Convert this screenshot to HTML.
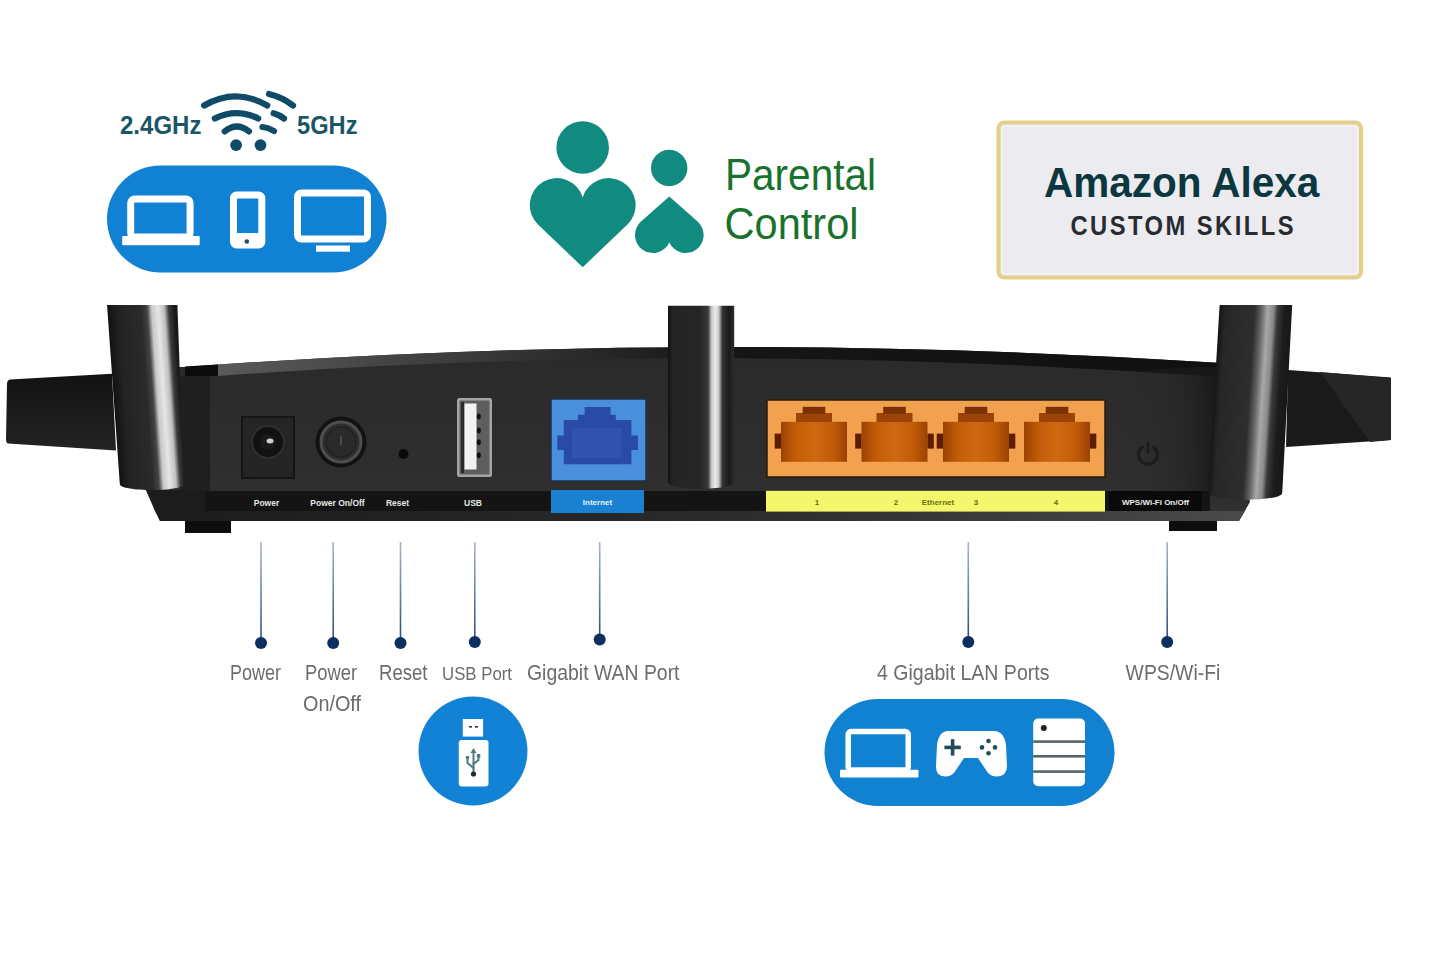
<!DOCTYPE html>
<html><head><meta charset="utf-8">
<style>
html,body{margin:0;padding:0;background:#fff;width:1445px;height:962px;overflow:hidden}
svg{display:block}
text{font-family:"Liberation Sans",sans-serif}
</style></head>
<body>
<svg width="1445" height="962" viewBox="0 0 1445 962">
<defs>
  <linearGradient id="antL" x1="0" x2="1" y1="0" y2="0">
    <stop offset="0" stop-color="#111"/>
    <stop offset="0.55" stop-color="#1c1c1c"/>
    <stop offset="0.66" stop-color="#555"/>
    <stop offset="0.76" stop-color="#d0d0d0"/>
    <stop offset="0.88" stop-color="#bbb"/>
    <stop offset="0.95" stop-color="#222"/>
    <stop offset="1" stop-color="#0e0e0e"/>
  </linearGradient>
  <linearGradient id="portg" x1="0" x2="1" y1="0" y2="0">
    <stop offset="0" stop-color="#9a4204"/>
    <stop offset="0.2" stop-color="#c05a08"/>
    <stop offset="0.5" stop-color="#cf6a10"/>
    <stop offset="0.8" stop-color="#c05a08"/>
    <stop offset="1" stop-color="#9a4204"/>
  </linearGradient>
  <linearGradient id="antM" x1="0" x2="1" y1="0" y2="0">
    <stop offset="0" stop-color="#0c0c0c"/>
    <stop offset="0.4" stop-color="#1c1c1c"/>
    <stop offset="0.56" stop-color="#3a3a3a"/>
    <stop offset="0.66" stop-color="#d8d8d8"/>
    <stop offset="0.76" stop-color="#bdbdbd"/>
    <stop offset="0.86" stop-color="#2a2a2a"/>
    <stop offset="1" stop-color="#0e0e0e"/>
  </linearGradient>
  <linearGradient id="antR" x1="0" x2="1" y1="0" y2="0">
    <stop offset="0" stop-color="#0c0c0c"/>
    <stop offset="0.3" stop-color="#1e1e1e"/>
    <stop offset="0.48" stop-color="#5a5a5a"/>
    <stop offset="0.57" stop-color="#a8a8a8"/>
    <stop offset="0.68" stop-color="#3a3a3a"/>
    <stop offset="0.85" stop-color="#1a1a1a"/>
    <stop offset="1" stop-color="#0e0e0e"/>
  </linearGradient>
  <linearGradient id="lineg" gradientUnits="userSpaceOnUse" x1="0" y1="542" x2="0" y2="642">
    <stop offset="0" stop-color="#a8b6c6"/>
    <stop offset="0.5" stop-color="#6a82a2"/>
    <stop offset="1" stop-color="#2a4a7a"/>
  </linearGradient>
  <linearGradient id="bandg" gradientUnits="userSpaceOnUse" x1="160" y1="0" x2="1250" y2="0">
    <stop offset="0" stop-color="#1c1c1c"/>
    <stop offset="0.5" stop-color="#2a2a2a"/>
    <stop offset="1" stop-color="#4a4a4a"/>
  </linearGradient>
  <linearGradient id="rimg" gradientUnits="userSpaceOnUse" x1="218" y1="0" x2="1222" y2="0">
    <stop offset="0" stop-color="#5a5a5a"/>
    <stop offset="0.25" stop-color="#3a3a3a"/>
    <stop offset="0.5" stop-color="#161616"/>
    <stop offset="1" stop-color="#101010"/>
  </linearGradient>
  <clipPath id="clipA1"><path d="M107 304.6 L177.4 304.6 L183.8 484 C183.8 492 119.8 492 119.8 484 Z"/></clipPath>
  <clipPath id="clipA2"><path d="M668 305.7 L734.2 305.7 L734.2 482 C734.2 491 668 491 668 482 Z"/></clipPath>
  <clipPath id="clipA3"><path d="M1219.6 305 L1292.2 305 L1282.2 493 C1282.2 502 1208.4 502 1208.4 493 Z"/></clipPath>
  <linearGradient id="gA1" x1="0" x2="1" y1="0" y2="0">
    <stop offset="0" stop-color="#0e0e0e"/><stop offset="0.1" stop-color="#141414"/><stop offset="0.2" stop-color="#232323"/>
    <stop offset="0.45" stop-color="#2a2a2a"/><stop offset="0.52" stop-color="#444"/><stop offset="0.57" stop-color="#c8c8c8"/>
    <stop offset="0.64" stop-color="#e6e6e6"/><stop offset="0.71" stop-color="#c0c0c0"/><stop offset="0.76" stop-color="#3a3a3a"/>
    <stop offset="0.82" stop-color="#1a1a1a"/><stop offset="1" stop-color="#111"/>
  </linearGradient>
  <linearGradient id="gA2" x1="0" x2="1" y1="0" y2="0">
    <stop offset="0" stop-color="#0e0e0e"/><stop offset="0.1" stop-color="#121212"/><stop offset="0.16" stop-color="#242424"/>
    <stop offset="0.5" stop-color="#262626"/><stop offset="0.6" stop-color="#3a3a3a"/><stop offset="0.645" stop-color="#c8c8c8"/>
    <stop offset="0.69" stop-color="#ececec"/><stop offset="0.735" stop-color="#c8c8c8"/><stop offset="0.78" stop-color="#333"/>
    <stop offset="0.86" stop-color="#1a1a1a"/><stop offset="0.92" stop-color="#2a2a2a"/><stop offset="1" stop-color="#111"/>
  </linearGradient>
  <linearGradient id="gA3" x1="0" x2="1" y1="0" y2="0">
    <stop offset="0" stop-color="#0e0e0e"/><stop offset="0.196" stop-color="#141414"/><stop offset="0.26" stop-color="#262626"/>
    <stop offset="0.55" stop-color="#2e2e2e"/><stop offset="0.62" stop-color="#666"/><stop offset="0.68" stop-color="#a8a8a8"/>
    <stop offset="0.74" stop-color="#8a8a8a"/><stop offset="0.78" stop-color="#3a3a3a"/><stop offset="0.85" stop-color="#1c1c1c"/>
    <stop offset="1" stop-color="#141414"/>
  </linearGradient>
  <linearGradient id="wingg" x1="0" x2="0" y1="0" y2="1">
    <stop offset="0" stop-color="#121212"/><stop offset="0.5" stop-color="#1a1a1a"/><stop offset="1" stop-color="#232323"/>
  </linearGradient>
  <filter id="soft" x="-5%" y="-20%" width="110%" height="140%"><feGaussianBlur stdDeviation="0.55"/></filter>
  <linearGradient id="shadeR" x1="0" x2="1" y1="0" y2="0">
    <stop offset="0" stop-color="#2c2c2c" stop-opacity="0"/>
    <stop offset="0.6" stop-color="#222" stop-opacity="0.4"/>
    <stop offset="1" stop-color="#151515" stop-opacity="0.9"/>
  </linearGradient>
  <linearGradient id="body" x1="0" x2="0" y1="0" y2="1">
    <stop offset="0" stop-color="#2a2a2a"/>
    <stop offset="1" stop-color="#303030"/>
  </linearGradient>
</defs>

<!-- ===== TOP: wifi + devices pill ===== -->
<g id="wifi">
  <text x="120" y="134.3" font-size="25" font-weight="bold" fill="#1a5766" textLength="81.5" lengthAdjust="spacingAndGlyphs">2.4GHz</text>
  <text x="297" y="134.3" font-size="25" font-weight="bold" fill="#1a5766" textLength="60.5" lengthAdjust="spacingAndGlyphs">5GHz</text>
  <g fill="none" stroke="#0f4a66" stroke-width="6.2" stroke-linecap="round">
    <path d="M204.1 105.5 Q235.7 87.3 267.3 105.5"/>
    <path d="M214.8 118.5 Q236.5 107.9 258.2 118.5"/>
    <path d="M224.7 131.4 Q236.8 121.6 249 131.4"/>
    <path d="M269 94 Q282 97 293 105.5"/>
    <path d="M273.6 113.2 Q279.5 114.8 284 118.5"/>
    <path d="M262.5 127 Q268.5 127.5 274 131"/>
  </g>
  <circle cx="236.1" cy="145.1" r="5.9" fill="#0f4a66"/>
  <circle cx="260.5" cy="145.1" r="5.9" fill="#0f4a66"/>
</g>
<g id="pill1">
  <rect x="107" y="165.5" width="279.5" height="107" rx="53.5" fill="#1181d4"/>
  <g fill="none" stroke="#fff" stroke-width="7">
    <rect x="130.7" y="199" width="59.4" height="38" rx="4"/>
    <rect x="233.5" y="195" width="28.3" height="50" rx="3"/>
    <rect x="297.5" y="192.9" width="70" height="46" rx="4"/>
  </g>
  <rect x="122.2" y="236" width="77.5" height="9.3" rx="1" fill="#fff"/>
  <rect x="316" y="245.5" width="34" height="6.2" fill="#fff"/>
  <rect x="232.8" y="233" width="29.2" height="12" fill="#fff"/>
  <circle cx="246.8" cy="241.5" r="2.3" fill="#2a4a66"/>
</g>

<!-- ===== Parental control ===== -->
<g fill="#118a80">
  <circle cx="582.7" cy="147.5" r="26.3"/>
  <path d="M582.7 267.2 L538.0 224.5 A27.0 27.0 0 1 1 582.7 197.5 A27.0 27.0 0 1 1 627.4 224.5 Z"/>
  <circle cx="669.2" cy="168" r="18.2"/>
  <path d="M669.3 196.6 L641.0 221.5 A18.0 18.0 0 1 0 669.3 242.5 A18.0 18.0 0 1 0 697.6 221.5 Z"/>
</g>
<text x="725" y="190" font-size="43.5" fill="#18722c" textLength="151" lengthAdjust="spacingAndGlyphs">Parental</text>
<text x="724.5" y="238.6" font-size="43.5" fill="#18722c" textLength="134" lengthAdjust="spacingAndGlyphs">Control</text>

<!-- ===== Alexa box ===== -->
<rect x="998.5" y="122.5" width="362.5" height="155" rx="6" fill="#ebebf0" stroke="#e3d088" stroke-width="4.2"/>
<rect x="1002" y="126" width="355.5" height="148" rx="3" fill="none" stroke="#f5f5f8" stroke-width="1.5"/>
<text x="1044" y="197.2" font-size="42.5" font-weight="bold" fill="#0b3840" textLength="275.4" lengthAdjust="spacingAndGlyphs">Amazon Alexa</text>
<text transform="scale(0.88,1)" x="1216.5" y="235.2" font-size="27" font-weight="bold" fill="#282b30" textLength="253.4" lengthAdjust="spacing">CUSTOM SKILLS</text>

<!-- ===== ROUTER ===== -->
<g id="router">
  <!-- wings -->
  <path d="M10 379.5 L112 373.7 L116 450.4 L8 443.5 Q6 443 6 439 L7 384 Q7 380 10 379.5 Z" fill="url(#wingg)"/>
  <path d="M1288 370 L1391 377.5 L1391 440 L1286 447 Z" fill="#1a1a1a"/>
  <path d="M1320 372 L1391 378 L1391 440 L1370 442 Z" fill="#262626"/>
  <!-- body -->
  <path d="M150 367 L185 367 Q700 329 1222 363 L1250 502 L1239 521 L160 521 L146 490 Z" fill="url(#body)"/>
  <!-- top dark rim -->
  <path d="M185 367 Q700 329 1222 363 L1222 377 Q700 340 218 376 L185 376 Z" fill="url(#rimg)"/>
  <path d="M185 366.5 L218 364.5 L218 376 L185 376 Z" fill="#0c0c0c"/>
  <rect x="180" y="376" width="30" height="115" fill="#1f1f1f"/>
  <!-- label strip -->
  <rect x="200" y="491" width="1010" height="20" fill="#141414"/>
  <path d="M155 511 L1245 511 L1239 521 L160 521 Z" fill="url(#bandg)"/>
  <path d="M146 490 L205 490 L205 511 L155 511 Z" fill="#1c1c1c"/>
  <!-- feet -->
  <rect x="185" y="521" width="46" height="12" fill="#0d0d0d"/>
  <rect x="1169" y="521" width="48" height="10" fill="#0d0d0d"/>

  <!-- power jack -->
  <rect x="242" y="417" width="52" height="61" fill="#252525" stroke="#151515" stroke-width="2"/>
  <circle cx="268" cy="442" r="16" fill="#111" stroke="#2e2e2e" stroke-width="2"/>
  <circle cx="268" cy="442" r="8" fill="#1a1a1a"/>
  <ellipse cx="270" cy="441" rx="3.5" ry="2.5" fill="#cfcfcf"/>
  <!-- power button -->
  <circle cx="341" cy="442" r="25.5" fill="#121212"/>
  <circle cx="341" cy="442" r="20" fill="#2e2e2e" stroke="#4e4e4e" stroke-width="3"/>
  <circle cx="341" cy="442" r="15" fill="#2a2a2a" stroke="#222" stroke-width="1.5"/>
  <path d="M341 436 L341 445" stroke="#555" stroke-width="1.5"/>
  <!-- reset -->
  <circle cx="403.5" cy="454" r="5" fill="#0a0a0a"/>
  <!-- usb -->
  <rect x="457" y="398" width="35" height="79" rx="2.5" fill="#a5a5a5"/>
  <rect x="459.5" y="400.5" width="30" height="74" fill="#5e5e5e"/>
  <rect x="461" y="402" width="3" height="71" fill="#2a2a2a"/>
  <rect x="464.5" y="403.5" width="12" height="66" fill="#f2f2f2"/>
  <g fill="#111"><ellipse cx="478.8" cy="416.6" rx="2" ry="3"/><ellipse cx="478.8" cy="430.5" rx="2" ry="3"/><ellipse cx="478.8" cy="442.3" rx="2" ry="3"/><ellipse cx="478.8" cy="455.2" rx="2" ry="3"/></g>

  <!-- internet port -->
  <rect x="551" y="399" width="95" height="82" fill="#4a8fdc" stroke="#20314a" stroke-width="1.5"/>
  <path d="M584.6 407 L610.6 407 L610.6 414.8 L615.8 414.8 L615.8 420 L631.4 420 L631.4 435.6 L637.9 435.6 L637.9 450 L631.4 450 L631.4 464.2 L563.8 464.2 L563.8 450 L557.3 450 L557.3 435.6 L563.8 435.6 L563.8 420 L578 420 L578 414.8 L584.6 414.8 Z" fill="#2a4aa8"/>
  <rect x="572" y="428" width="50" height="30" fill="#3556b0" opacity="0.7"/>
  <rect x="551" y="490" width="93" height="23" fill="#1a80d2"/>
  <text x="597.5" y="505" font-size="8" font-weight="bold" fill="#e8f2ff" text-anchor="middle">Internet</text>

  <path d="M1110 372 L1222 366 L1210 491 L1110 491 Z" fill="url(#shadeR)"/>
  <!-- antennas -->
  <g clip-path="url(#clipA1)"><rect x="0" y="0" width="90" height="200" fill="url(#gA1)" transform="translate(100,305) skewX(3.87)"/></g>
  <g clip-path="url(#clipA2)"><rect x="660" y="300" width="80" height="200" fill="url(#gA2)"/></g>
  <g clip-path="url(#clipA3)"><rect x="0" y="0" width="100" height="200" fill="url(#gA3)" transform="translate(1200,305) skewX(-3.67)"/></g>
  <!-- LAN block -->
  <rect x="767" y="400" width="338" height="77" fill="#f2a24f" stroke="#2a1a0a" stroke-width="1.5"/>
  <g id="lanports">
<rect x="781" y="421.8" width="66" height="40" fill="url(#portg)"/>
<rect x="796.0" y="413" width="36" height="9" fill="#9c4308"/>
<rect x="802.7" y="406.8" width="22.6" height="7" fill="#7a3000"/>
<rect x="774.7" y="433.6" width="6.3" height="15" fill="#5e1c00"/>
<rect x="861.5" y="421.8" width="66" height="40" fill="url(#portg)"/>
<rect x="876.5" y="413" width="36" height="9" fill="#9c4308"/>
<rect x="883.2" y="406.8" width="22.6" height="7" fill="#7a3000"/>
<rect x="855.2" y="433.6" width="6.3" height="15" fill="#5e1c00"/>
<rect x="927.5" y="433.6" width="6.3" height="15" fill="#5e1c00"/>
<rect x="943" y="421.8" width="66" height="40" fill="url(#portg)"/>
<rect x="958.0" y="413" width="36" height="9" fill="#9c4308"/>
<rect x="964.7" y="406.8" width="22.6" height="7" fill="#7a3000"/>
<rect x="936.7" y="433.6" width="6.3" height="15" fill="#5e1c00"/>
<rect x="1009" y="433.6" width="6.3" height="15" fill="#5e1c00"/>
<rect x="1024" y="421.8" width="66" height="40" fill="url(#portg)"/>
<rect x="1039.0" y="413" width="36" height="9" fill="#9c4308"/>
<rect x="1045.7" y="406.8" width="22.6" height="7" fill="#7a3000"/>
<rect x="1090" y="433.6" width="6.3" height="15" fill="#5e1c00"/>
</g>
  <rect x="766" y="490.8" width="339" height="20.8" fill="#f4f66c"/>

  <!-- WPS -->
  <path d="M1142.5 447 A9.5 9.5 0 1 0 1153.5 447" fill="none" stroke="#1c1c1c" stroke-width="3" stroke-linecap="round"/>
  <path d="M1148 443 L1148 452" stroke="#1c1c1c" stroke-width="2.6" stroke-linecap="round"/>
  <rect x="1109" y="491" width="93" height="20" fill="#0a0a0a"/>
  <text x="1155.5" y="504.5" font-size="8" font-weight="bold" fill="#eee" text-anchor="middle">WPS/Wi-Fi On/Off</text>

  <g font-size="8.5" font-weight="bold" fill="#e6e6e6" text-anchor="middle">
    <text x="266.5" y="506">Power</text>
    <text x="337.5" y="506">Power On/Off</text>
    <text x="397.5" y="506">Reset</text>
    <text x="473" y="506">USB</text>
  </g>
  <g font-size="8" font-weight="bold" fill="#6a6e10" text-anchor="middle">
    <text x="817" y="505">1</text>
    <text x="896" y="505">2</text>
    <text x="938" y="505">Ethernet</text>
    <text x="976" y="505">3</text>
    <text x="1056" y="505">4</text>
  </g>
</g>

<!-- ===== callout lines ===== -->
<g stroke="url(#lineg)" stroke-width="1.6">
  <line x1="261" y1="542" x2="261" y2="642"/>
  <line x1="333.2" y1="542" x2="333.2" y2="642"/>
  <line x1="400.5" y1="542" x2="400.5" y2="642"/>
  <line x1="474.8" y1="542" x2="474.8" y2="642"/>
  <line x1="599.7" y1="542" x2="599.7" y2="639"/>
  <line x1="968.3" y1="542" x2="968.3" y2="642"/>
  <line x1="1167.2" y1="542" x2="1167.2" y2="642"/>
</g>
<g fill="#0b2f5e">
  <circle cx="261" cy="643" r="6"/>
  <circle cx="333.2" cy="643" r="6"/>
  <circle cx="400.5" cy="643" r="6"/>
  <circle cx="474.8" cy="642" r="6"/>
  <circle cx="599.7" cy="639.5" r="6"/>
  <circle cx="968.3" cy="642" r="6"/>
  <circle cx="1167.2" cy="642" r="6"/>
</g>
<g font-size="22.5" fill="#6c6c6c" filter="url(#soft)">
  <text x="230" y="680" textLength="51" lengthAdjust="spacingAndGlyphs">Power</text>
  <text x="305" y="680" textLength="52" lengthAdjust="spacingAndGlyphs">Power</text>
  <text x="303" y="711" textLength="58" lengthAdjust="spacingAndGlyphs">On/Off</text>
  <text x="379" y="680" textLength="48.5" lengthAdjust="spacingAndGlyphs">Reset</text>
  <text x="442" y="679.5" font-size="18" textLength="70" lengthAdjust="spacingAndGlyphs">USB Port</text>
  <text x="527" y="679.5" textLength="152.5" lengthAdjust="spacingAndGlyphs">Gigabit WAN Port</text>
  <text x="877" y="680" textLength="172.4" lengthAdjust="spacingAndGlyphs">4 Gigabit LAN Ports</text>
  <text x="1125.6" y="680" textLength="94.7" lengthAdjust="spacingAndGlyphs">WPS/Wi-Fi</text>
</g>

<!-- ===== USB circle ===== -->
<circle cx="473" cy="751" r="54.5" fill="#1282d6"/>
<rect x="462.8" y="719" width="20.3" height="17.6" fill="#fff"/>
<rect x="469" y="726" width="3" height="1.6" fill="#333"/>
<rect x="475" y="726" width="3" height="1.6" fill="#333"/>
<rect x="458.8" y="740" width="29.7" height="46.6" rx="3" fill="#fff"/>
<g stroke="#4f7a80" stroke-width="2" fill="none" stroke-linecap="round">
  <line x1="473.5" y1="752" x2="473.5" y2="773"/>
  <path d="M473.5 768 L467.5 763 L467.5 758"/>
  <path d="M473.5 764 L478.5 760 L478.5 756"/>
</g>
<path d="M473.5 748 L470.5 753 L476.5 753 Z" fill="#4f7a80"/>
<circle cx="473.5" cy="774" r="2.6" fill="#1e2e30"/>
<circle cx="467.5" cy="757.5" r="1.8" fill="#4f7a80"/>
<rect x="476.8" y="754" width="3.5" height="3.5" fill="#4f7a80"/>

<!-- ===== LAN pill ===== -->
<rect x="824.5" y="699" width="290" height="107" rx="53.5" fill="#1181d2"/>
<rect x="848.2" y="731.6" width="60" height="38.5" rx="3" fill="none" stroke="#fff" stroke-width="5.5"/>
<rect x="840" y="769.7" width="78.5" height="7.8" rx="1" fill="#fff"/>
<path d="M948 731 L994 731 Q1004 731 1006 745 L1007 766 Q1007 776 997 776.5 Q990 777 986 770 L978 758 L964 758 L956 770 Q952 777 945 776.5 Q935.5 776 936 766 L937 745 Q939 731 948 731 Z" fill="#fff"/>
<g fill="#1f4d5c">
  <rect x="944.4" y="745.6" width="16.4" height="3.6"/>
  <rect x="950.8" y="739.2" width="3.6" height="16.4"/>
  <circle cx="988.5" cy="741" r="2.3"/>
  <circle cx="988.5" cy="753.2" r="2.3"/>
  <circle cx="982" cy="747.4" r="2.3"/>
  <circle cx="995" cy="747.4" r="2.3"/>
</g>
<rect x="1033.2" y="718.5" width="51.8" height="67.7" rx="5" fill="#fff"/>
<g fill="#56656e">
  <rect x="1033.2" y="740.3" width="51.8" height="2.6"/>
  <rect x="1033.2" y="755" width="51.8" height="2.6"/>
  <rect x="1033.2" y="770.3" width="51.8" height="2.6"/>
</g>
<circle cx="1043.8" cy="728" r="3" fill="#1a2428"/>

</svg>
</body></html>
